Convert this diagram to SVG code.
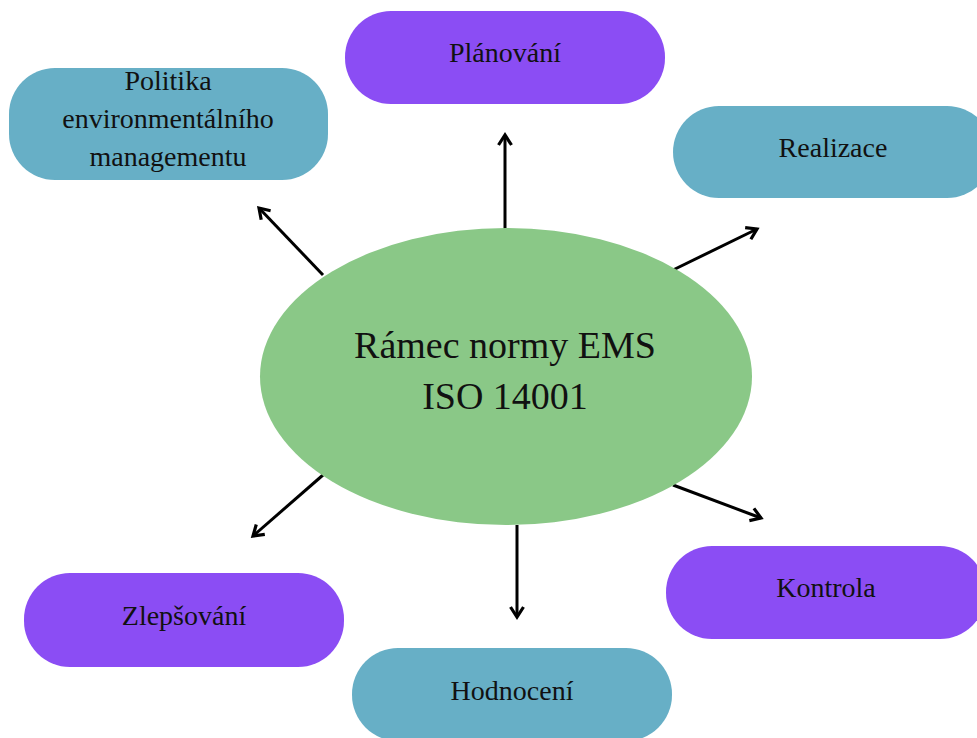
<svg xmlns="http://www.w3.org/2000/svg" width="977" height="738" viewBox="0 0 977 738">
<style>
  .purple { fill: #8B4DF4; }
  .teal { fill: #67AFC6; }
  .lbl { font-family: "Liberation Serif", "Times New Roman", serif; font-size: 28px; fill: #111; text-anchor: middle; }
  .big { font-family: "Liberation Serif", "Times New Roman", serif; font-size: 38px; fill: #111; text-anchor: middle; }
  .conn { stroke: #000; stroke-width: 3; fill: none; marker-end: url(#arr); }
</style>
<defs>
  <marker id="arr" markerUnits="userSpaceOnUse" markerWidth="30" markerHeight="30" viewBox="-15 -15 30 30" refX="0" refY="0" orient="auto">
    <path d="M-10,-6.5 L0,0 L-10,6.5" fill="none" stroke="#000" stroke-width="3.2" stroke-linejoin="miter"/>
  </marker>
</defs>
<rect width="977" height="738" fill="#fff"/>
<g id="connectors">
  <line class="conn" x1="505" y1="229" x2="505" y2="135"/>
  <line class="conn" x1="323" y1="275" x2="259" y2="208"/>
  <line class="conn" x1="673" y1="270" x2="757" y2="229"/>
  <line class="conn" x1="323" y1="475" x2="253" y2="536"/>
  <line class="conn" x1="517" y1="525" x2="517" y2="617"/>
  <line class="conn" x1="673" y1="485" x2="761" y2="518"/>
</g>
<g id="center">
  <ellipse cx="506" cy="376.5" rx="246" ry="148.5" fill="#8AC887"/>
  <text class="big" x="505" y="358">Rámec normy EMS</text>
  <text class="big" x="505" y="409">ISO 14001</text>
</g>
<g id="politika">
  <rect class="teal" x="9" y="68" width="319" height="112" rx="46" ry="46"/>
  <text class="lbl" x="168" y="90">Politika</text>
  <text class="lbl" x="168" y="128">environmentálního</text>
  <text class="lbl" x="168" y="166">managementu</text>
</g>
<g id="planovani">
  <rect class="purple" x="345" y="11" width="320" height="93" rx="46" ry="46"/>
  <text class="lbl" x="505" y="62">Plánování</text>
</g>
<g id="realizace">
  <rect class="teal" x="673" y="106" width="320" height="92" rx="46" ry="46"/>
  <text class="lbl" x="833" y="157">Realizace</text>
</g>
<g id="kontrola">
  <rect class="purple" x="666" y="546" width="320" height="93" rx="46" ry="46"/>
  <text class="lbl" x="826" y="597">Kontrola</text>
</g>
<g id="hodnoceni">
  <rect class="teal" x="352" y="648" width="320" height="93" rx="46" ry="46"/>
  <text class="lbl" x="512" y="700">Hodnocení</text>
</g>
<g id="zlepsovani">
  <rect class="purple" x="24" y="573" width="320" height="94" rx="46" ry="46"/>
  <text class="lbl" x="184" y="625">Zlepšování</text>
</g>
</svg>
